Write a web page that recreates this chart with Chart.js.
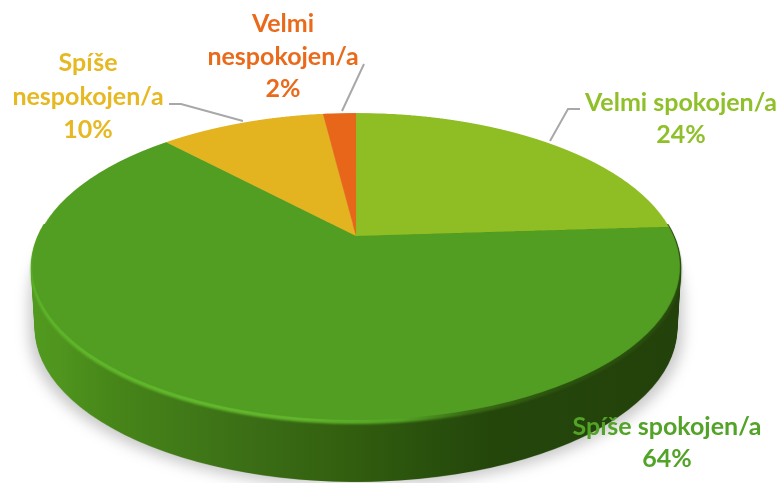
<!DOCTYPE html>
<html>
<head>
<meta charset="utf-8">
<style>html,body{margin:0;padding:0;background:#fff}#wrap{width:784px;height:483px}</style>
<script src="https://cdn.jsdelivr.net/npm/chart.js@4"></script>
</head>
<body>
<div id="wrap"><canvas id="c" width="784" height="483"></canvas></div>
<script>
const categories = ['Velmi spokojen/a', 'Spíše spokojen/a', 'Spíše nespokojen/a', 'Velmi nespokojen/a'];
const values = [24, 64, 10, 2];
const sliceColors = ['#8fbd24', '#519e23', '#e3b41f', '#e8661a'];
const labelColors = ['#8fc02a', '#52a328', '#e6b822', '#ea6a1c'];
const labelLines = [['Velmi spokojen/a'], ['Spíše spokojen/a'], ['Spíše', 'nespokojen/a'], ['Velmi', 'nespokojen/a']];

/* label layout: centre x and first-line y; leader polyline */
const labelPlace = [
  {x: 681, y: 103, dy: 32, lead: [[580,109],[568,109],[550,141]]},
  {x: 667, y: 427, dy: 32, lead: null},
  {x: 88,  y: 63,  dy: 33.5, lead: [[169,104],[181,104],[243,121]]},
  {x: 283, y: 24,  dy: 32.5, lead: [[364,64],[342,111]]}
];

/* perspective of the pie disc */
const view = {cx: 356, cy: 236, X: 318.5, Y: 147.4, p: -0.1987, depth: 62, rimTop: 224};

function layer(w, h) { const k = document.createElement('canvas'); k.width = w; k.height = h; return k; }

const pie3d = {
  id: 'pie3d',
  beforeDatasetsDraw(chart) {
    const ctx = chart.ctx, W = chart.width, H = chart.height, S = 2;
    const arcs = chart.getDatasetMeta(0).data;
    const a0 = arcs[0], R = a0.outerRadius;

    /* flat disc, drawn by the library's own arc elements */
    const flat = layer(W * S, H * S), fc = flat.getContext('2d');
    fc.scale(S, S);
    arcs.forEach(a => a.draw(fc));

    /* project the disc row by row */
    const face = layer(W * S, H * S), tc = face.getContext('2d');
    tc.imageSmoothingQuality = 'high';
    const srcY = t => { const v = t / (view.Y - t * view.p); return {v, sy: (a0.y + R * v) * S}; };
    for (let row = 0; row < H * S; row++) {
      const t0 = row / S - view.cy, t1 = (row + 1) / S - view.cy;
      if (t0 < -135 || t0 > 200) continue;
      const s0 = srcY(t0), s1 = srcY(t1), mid = srcY((t0 + t1) / 2);
      if (Math.abs(mid.v) > 1.02) continue;
      const w = 1 + view.p * mid.v, sx = view.X / (w * R);
      const dw = W * S * sx;
      const dx = view.cx * S - a0.x * S * sx;
      tc.drawImage(flat, 0, s0.sy, W * S, Math.max(s1.sy - s0.sy, 0.01), dx, row, dw, 1);
    }

    const tinted = (build, fill) => {
      const k = layer(W, H), c = k.getContext('2d');
      build(c);
      c.globalCompositeOperation = 'source-in';
      c.fillStyle = fill;
      c.fillRect(0, 0, W, H);
      return k;
    };
    const hGrad = stops => {
      const g = ctx.createLinearGradient(30, 0, 682, 0);
      stops.forEach(s => g.addColorStop((s[0] - 30) / 652, s[1]));
      return g;
    };
    const scaled = (c, f, d) => c.drawImage(face, view.cx * (1 - f), d, W * f, H);

    /* side wall: the face swept downward */
    const sweep = c => { for (let d = view.depth; d >= 0; d--) scaled(c, 1 - 0.012 * d / view.depth, d); };
    const wall = tinted(sweep, hGrad([[30,'#529a1f'],[60,'#4f951e'],[110,'#478619'],[180,'#417a18'],[260,'#3a6c15'],[340,'#33600f'],[420,'#2a520d'],[490,'#24460b'],[680,'#23420b']]));

    /* soft ground shadow */
    ctx.save();
    ctx.filter = 'blur(7px)';
    ctx.globalAlpha = 0.32;
    const shade = tinted(c => { for (let d = view.depth + 5; d >= 30; d -= 2) scaled(c, 1.005, d); }, '#555');
    ctx.drawImage(shade, 0, 0);
    ctx.restore();

    /* wall and bevel show only on the lower part of the disc */
    ctx.save();
    ctx.beginPath();
    ctx.rect(0, view.rimTop, W, H - view.rimTop);
    ctx.clip();
    ctx.drawImage(wall, 0, 0);
    const rim = tinted(c => scaled(c, 1, 4), hGrad([[30,'#5fb52a'],[200,'#62b82c'],[300,'#62b52c'],[400,'#54a425'],[470,'#3a6c15'],[560,'#2b520e'],[682,'#2a4d0e']]));
    ctx.filter = 'blur(1.2px)';
    ctx.drawImage(rim, 0, 0);
    ctx.restore();

    /* top face */
    ctx.drawImage(face, view.cx * (1 - 0.997), 0, W * 0.997, H);
    return false;
  },
  afterDraw(chart) {
    const ctx = chart.ctx;
    ctx.save();
    ctx.strokeStyle = '#a8a8a8';
    ctx.lineWidth = 2;
    labelPlace.forEach(p => {
      if (!p.lead) return;
      ctx.beginPath();
      p.lead.forEach((q, i) => i ? ctx.lineTo(q[0], q[1]) : ctx.moveTo(q[0], q[1]));
      ctx.stroke();
    });
    ctx.font = 'bold 25px Lato, "Open Sans", sans-serif';
    ctx.textAlign = 'center';
    ctx.textBaseline = 'middle';
    labelPlace.forEach((p, i) => {
      ctx.fillStyle = labelColors[i];
      const lines = labelLines[i].concat([values[i] + '%']);
      lines.forEach((t, j) => ctx.fillText(t, p.x, p.y + j * p.dy));
    });
    ctx.restore();
  }
};

new Chart(document.getElementById('c'), {
  type: 'pie',
  data: {
    labels: categories,
    datasets: [{data: values, backgroundColor: sliceColors, borderWidth: 0}]
  },
  options: {
    responsive: false,
    animation: false,
    layout: {padding: 0},
    plugins: {legend: {display: false}, tooltip: {enabled: false}}
  },
  plugins: [pie3d]
});
</script>
</body>
</html>
